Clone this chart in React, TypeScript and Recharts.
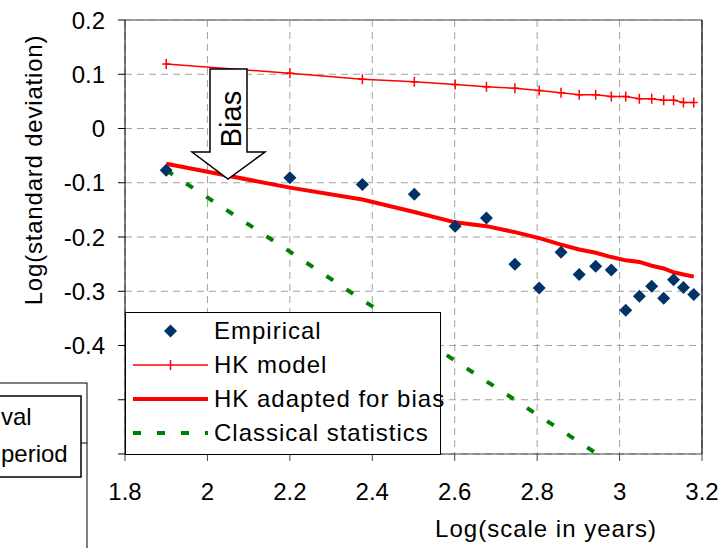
import { ComposedChart, Line, Scatter, XAxis, YAxis, CartesianGrid, Legend, ReferenceLine } from "recharts"

// log10 of the averaging scale (years)
const scaleLog = [1.9, 2.2, 2.376, 2.502, 2.601, 2.677, 2.746, 2.805, 2.858, 2.902, 2.942, 2.98, 3.015, 3.048, 3.078, 3.107, 3.131, 3.155, 3.18]
const empirical = [-0.077, -0.091, -0.103, -0.121, -0.18, -0.165, -0.25, -0.294, -0.228, -0.269, -0.254, -0.261, -0.335, -0.309, -0.291, -0.313, -0.279, -0.293, -0.306]
const hkModel = [0.119, 0.102, 0.091, 0.086, 0.081, 0.077, 0.074, 0.07, 0.066, 0.062, 0.062, 0.059, 0.059, 0.055, 0.055, 0.052, 0.052, 0.048, 0.048]
const hkAdapted = [-0.065, -0.109, -0.131, -0.154, -0.173, -0.18, -0.191, -0.202, -0.214, -0.223, -0.229, -0.237, -0.243, -0.246, -0.253, -0.258, -0.265, -0.269, -0.273]
const classical = [-0.077, -0.227, -0.316, -0.378, -0.428, -0.466, -0.5, -0.53, -0.556, -0.578, -0.598, -0.617]

const xTicks = [1.8, 2, 2.2, 2.4, 2.6, 2.8, 3, 3.2]
const yTicks = [-0.6, -0.5, -0.4, -0.3, -0.2, -0.1, 0, 0.1, 0.2]
const yTickLabels = ["", "", "-0.4", "-0.3", "-0.2", "-0.1", "0", "0.1", "0.2"]
const seriesNames = ["Empirical", "HK model", "HK adapted for bias", "Classical statistics"]

const data = scaleLog.map((x, i) => ({
  x,
  emp: empirical[i],
  hk: hkModel[i],
  hkb: hkAdapted[i],
  cls: classical[i] ?? null,
}))

const FONT = "'Liberation Sans', Arial, sans-serif"
const NAVY = "#003366"
const RED = "#ff0000"
const GREEN = "#008000"

function Diamond(props: any) {
  const { cx, cy } = props
  if (cx == null || cy == null) return null
  const r = 6.5
  return <polygon points={`${cx},${cy - r} ${cx + r},${cy} ${cx},${cy + r} ${cx - r},${cy}`} fill={NAVY} />
}

function crossDot(props: any) {
  const { cx, cy, index } = props
  if (cx == null || cy == null) return <g key={index} />
  return <path key={index} d={`M${cx - 4},${cy}H${cx + 4}M${cx},${cy - 5}V${cy + 5}`} stroke={RED} strokeWidth={1.5} fill="none" />
}

function legendIcon(i: number) {
  if (i === 0) return <Diamond cx={37.5} cy={17} />
  if (i === 1)
    return (
      <g stroke={RED} strokeWidth={1.5}>
        <line x1={0} y1={17} x2={75} y2={17} />
        <line x1={37.5} y1={12} x2={37.5} y2={22} />
      </g>
    )
  if (i === 2) return <line x1={0} y1={17} x2={75} y2={17} stroke={RED} strokeWidth={4} />
  return <line x1={0} y1={17} x2={75} y2={17} stroke={GREEN} strokeWidth={4} strokeDasharray="8 16" />
}

function ChartLegend() {
  return (
    <div style={{ width: 316, height: 143, boxSizing: "border-box", border: "1px solid #000", background: "#fff", paddingTop: 1, fontFamily: FONT }}>
      {seriesNames.map((name, i) => (
        <div key={name} style={{ display: "flex", alignItems: "center", height: 34 }}>
          <svg width={75} height={34} style={{ marginLeft: 7, marginRight: 6, flex: "none" }}>
            {legendIcon(i)}
          </svg>
          <span style={{ fontSize: 24, lineHeight: "34px", letterSpacing: 1, color: "#000", whiteSpace: "nowrap" }}>{name}</span>
        </div>
      ))}
    </div>
  )
}

export default function App() {
  return (
    <div style={{ position: "absolute", left: 0, top: 0, width: 728, height: 548, background: "#fff", overflow: "hidden" }}>
      <ComposedChart width={728} height={548} data={data} margin={{ top: 20, right: 26, bottom: 0, left: 0 }}>
        <CartesianGrid stroke="#a0a0a0" strokeDasharray="7 5" />
        <XAxis
          dataKey="x"
          type="number"
          domain={[1.8, 3.2]}
          ticks={xTicks}
          allowDataOverflow
          height={94}
          tickSize={7}
          tickMargin={22}
          stroke="#444"
          tick={{ fill: "#000", fontSize: 24, fontFamily: FONT }}
          label={() => (
            <text x={546} y={537} textAnchor="middle" fontSize={24} letterSpacing={1} fontFamily={FONT} fill="#000">
              Log(scale in years)
            </text>
          )}
        />
        <YAxis
          type="number"
          domain={[-0.6, 0.2]}
          ticks={yTicks}
          allowDataOverflow
          width={125}
          tickSize={7}
          tickMargin={13}
          stroke="#000"
          tickFormatter={(v: number) => yTickLabels[yTicks.indexOf(v)] ?? ""}
          tick={{ fill: "#000", fontSize: 24, fontFamily: FONT }}
          label={() => (
            <text x={42} y={170} transform="rotate(-90 42 170)" textAnchor="middle" fontSize={24} letterSpacing={0.8} fontFamily={FONT} fill="#000">
              Log(standard deviation)
            </text>
          )}
        />
        <ReferenceLine y={0.2} stroke="#808080" strokeWidth={1.5} />
        <ReferenceLine x={3.2} stroke="#000" strokeWidth={1.2} />
        <Line dataKey="cls" name={seriesNames[3]} stroke={GREEN} strokeWidth={4} strokeDasharray="8 16" dot={false} isAnimationActive={false} />
        <Line dataKey="hkb" name={seriesNames[2]} stroke={RED} strokeWidth={4} dot={false} isAnimationActive={false} />
        <Line dataKey="hk" name={seriesNames[1]} stroke={RED} strokeWidth={1.5} dot={crossDot} isAnimationActive={false} />
        <Scatter dataKey="emp" name={seriesNames[0]} shape={<Diamond />} isAnimationActive={false} />
        <Legend
          layout="vertical"
          align="center"
          verticalAlign="middle"
          content={() => <ChartLegend />}
          wrapperStyle={{ left: 125, top: 312, width: 316, height: 143 }}
        />
      </ComposedChart>
      <svg width={728} height={548} style={{ position: "absolute", left: 0, top: 0, pointerEvents: "none" }} fontFamily={FONT}>
        {/* fragment of the neighbouring chart, cut off at the left edge */}
        <rect x={-2} y={383} width={89} height={170} fill="#fff" stroke="#000" strokeWidth={1} />
        <rect x={-2} y={396} width={83} height={81} fill="#fff" stroke="#000" strokeWidth={1.5} />
        <line x1={81} y1={443} x2={87} y2={443} stroke="#000" strokeWidth={1} />
        <text x={1} y={425} fontSize={24} fill="#000">val</text>
        <text x={1} y={462} fontSize={24} fill="#000">period</text>
        {/* bias arrow */}
        <polygon points="210,69 247,69 247,152 265,152 228,179 192,152 210,152" fill="#fff" stroke="#000" strokeWidth={1.5} />
        <text x={241} y={119} transform="rotate(-90 241 119)" textAnchor="middle" fontSize={29} fill="#000">
          Bias
        </text>
      </svg>
    </div>
  )
}
